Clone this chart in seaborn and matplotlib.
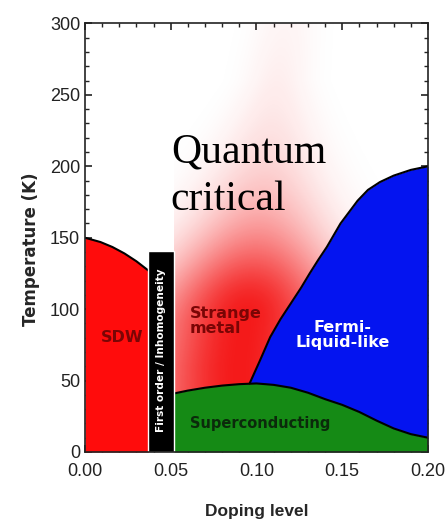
"""
Phase diagram - temperature vs doping level
"""

import numpy as np
import pandas as pd
import seaborn as sns
import matplotlib as mpl
import matplotlib.pyplot as plt
from matplotlib.ticker import MultipleLocator

# Configure seaborn style
sns.set_theme(style="ticks")
plt.rcParams['font.family'] = ['Liberation Sans', 'DejaVu Sans']

# --------------------------------------------------------------------
#                               Data
# --------------------------------------------------------------------
# SDW boundary
sdw_x = [0.000, 0.009, 0.016, 0.023, 0.030, 0.037]
sdw_T = [150.0, 147.0, 143.5, 139.0, 133.5, 127.0]

# First order / inhomogeneity bar
bar_left = 0.037
bar_right = 0.052
bar_top = 141.0

# Superconducting dome
sc_x = [0.052, 0.060, 0.070, 0.080, 0.090, 0.100, 0.110, 0.120, 0.130,
        0.140, 0.150, 0.160, 0.170, 0.180, 0.190, 0.200]
sc_T = [41.0, 43.0, 45.0, 46.5, 47.5, 48.0, 47.0, 45.0, 41.5,
        37.0, 33.0, 28.0, 22.0, 16.5, 12.5, 10.0]

# Fermi-liquid-like crossover
fl_x = [0.096, 0.102, 0.108, 0.114, 0.120, 0.126, 0.131, 0.136, 0.141,
        0.149, 0.159, 0.165, 0.172, 0.180, 0.190, 0.200]
fl_T = [48.0, 64.0, 80.5, 93.0, 104.0, 115.0, 125.0, 134.5, 143.5,
        160.0, 176.0, 183.5, 189.0, 193.5, 197.5, 200.0]

# Region labels
labels = ['SDW', 'Strange\nmetal', 'Fermi-\nLiquid-like', 'Superconducting']
labels_x = [0.0215, 0.061, 0.150, 0.061]
labels_T = [80, 92, 82, 20]

# --------------------------------------------------------------------
#                               Plot
# --------------------------------------------------------------------
f = plt.figure(figsize=(4.46, 5.22), dpi=100)
ax = f.add_axes([0.1906, 0.1341, 0.7690, 0.8209])

# Quantum critical glow (red fading upwards)
gx = np.linspace(bar_right, 0.20, 300)
gT = np.linspace(0, 300, 400)
GX, GT = np.meshgrid(gx, gT)
xc = 0.090 + 0.00011 * np.clip(GT - 60, 0, None)
sx = np.interp(GT, [0, 90, 160, 260], [0.045, 0.041, 0.028, 0.013])
fv = 1.0 / (1.0 + (np.clip(GT - 90, 0, None) / 62.0) ** 2.5)
alpha = np.exp(-0.5 * ((GX - xc) / sx) ** 2) * fv
rgba = np.zeros(GX.shape + (4,))
rgba[..., 0] = 0.96
rgba[..., 1] = 0.10
rgba[..., 2] = 0.10
rgba[..., 3] = alpha
ax.imshow(rgba, extent=[bar_right, 0.20, 0, 300], origin='lower',
          aspect='auto', interpolation='bilinear', zorder=1)

# SDW region
ax.fill_between(sdw_x, 0, sdw_T, color='#ff0c0c', lw=0, zorder=2)

# Fermi-liquid region
grid = np.linspace(fl_x[0], fl_x[-1], 300)
ax.fill_between(grid, np.interp(grid, sc_x, sc_T),
                np.interp(grid, fl_x, fl_T), color='#0414f0', lw=0, zorder=2)

# Superconducting region
ax.fill_between(sc_x, 0, sc_T, color='#158a15', lw=0, zorder=3)

# Boundaries
df = pd.DataFrame({'x': sdw_x + sc_x + fl_x,
                   'T': sdw_T + sc_T + fl_T,
                   'line': ['sdw'] * len(sdw_x) + ['sc'] * len(sc_x)
                           + ['fl'] * len(fl_x)})
sns.lineplot(data=df, x='x', y='T', units='line', estimator=None,
             sort=False, color='black', lw=1.5, ax=ax, zorder=4)

# First order bar
ax.bar(x=(bar_left + bar_right) / 2, height=bar_top,
       width=bar_right - bar_left, color='black', zorder=5)
ax.text((bar_left + bar_right) / 2, 71, 'First order / Inhomogeneity',
        rotation=90, ha='center', va='center', color='white',
        fontsize=7.6, fontweight='bold', family='DejaVu Sans', zorder=6)

# Region labels
colors = ['#7a0505', '#7a0505', 'white', '#0b2a0b']
aligns = ['center', 'left', 'center', 'left']
sizes = [11.5, 11.5, 11.5, 10.5]
for t, x, y, c, a, s in zip(labels, labels_x, labels_T, colors, aligns, sizes):
    ax.text(x, y, t, ha=a, va='center', color=c, fontsize=s,
            fontweight='bold', family='DejaVu Sans', linespacing=1.0,
            multialignment='center' if a == 'center' else 'left', zorder=6)

# Quantum critical annotation
ax.text(0.0500, 202.5, 'Quantum', ha='left', va='baseline',
        fontsize=30, family='Liberation Serif', color='black', zorder=6)
ax.text(0.0500, 169.5, 'critical', ha='left', va='baseline',
        fontsize=30, family='Liberation Serif', color='black', zorder=6)

# Axes
ax.set_xlim([0, 0.2])
ax.set_ylim([0, 300])
ax.xaxis.set_major_locator(MultipleLocator(0.05))
ax.xaxis.set_minor_locator(MultipleLocator(0.01))
ax.yaxis.set_major_locator(MultipleLocator(50))
ax.yaxis.set_minor_locator(MultipleLocator(10))
ax.xaxis.set_major_formatter(mpl.ticker.FormatStrFormatter('%.2f'))
ax.tick_params(which='both', direction='in', top=True, right=True,
               color='#222222', labelsize=13, labelcolor='#222222')
ax.tick_params(axis='x', which='major', pad=8)
ax.tick_params(which='major', length=5, width=1.2)
ax.tick_params(which='minor', length=3, width=1.0)
for s in ax.spines.values():
    s.set_linewidth(1.2)
    s.set_color('#222222')
    s.set_zorder(7)

ax.set_xlabel('Doping level', fontsize=12.5, fontweight='bold', labelpad=17)
ax.set_ylabel('Temperature (K)', fontsize=12, fontweight='bold',
              family='DejaVu Sans')
ax.yaxis.set_label_coords(-0.13, 0.474)

plt.savefig('out.png', dpi=100)
